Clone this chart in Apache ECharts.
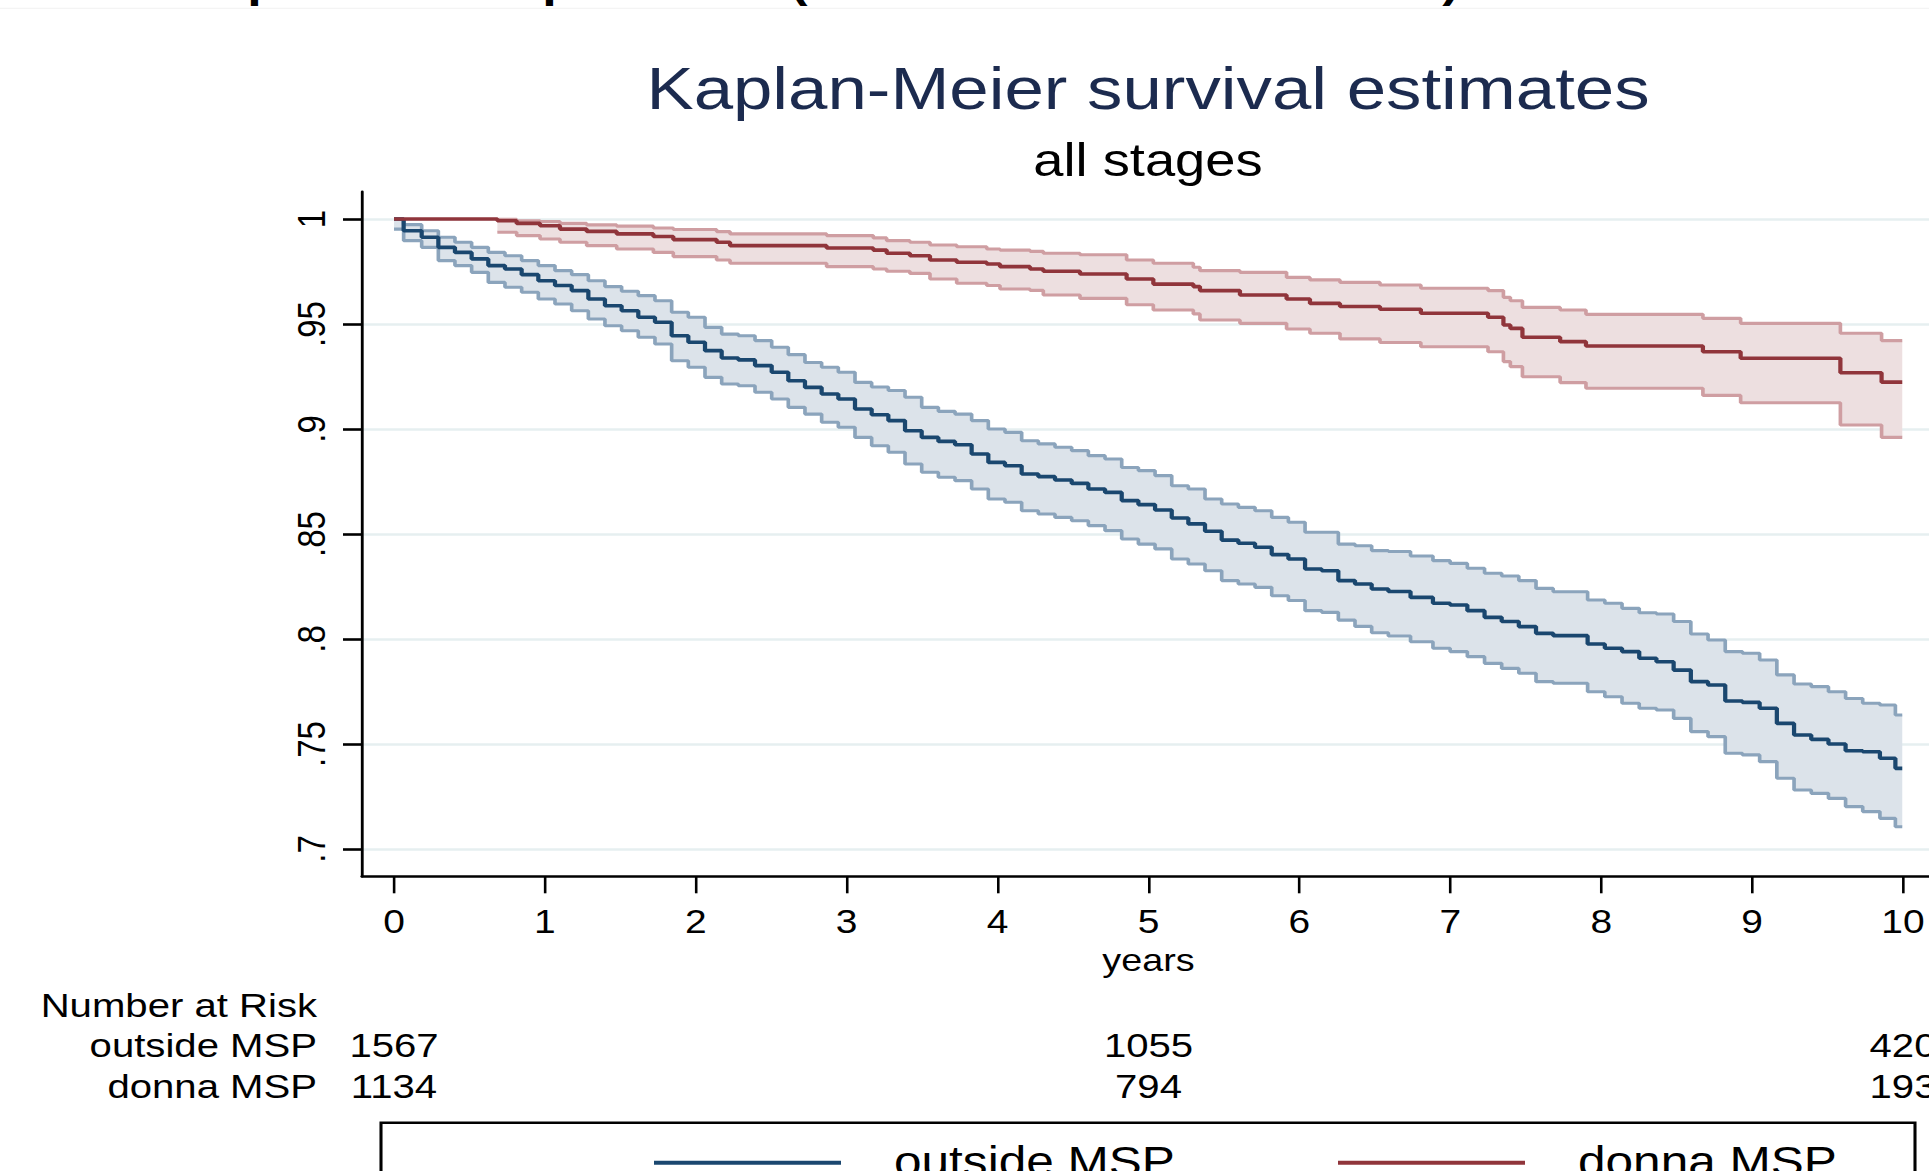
<!DOCTYPE html>
<html>
<head>
<meta charset="utf-8">
<title>Kaplan-Meier survival estimates</title>
<script src="https://cdn.jsdelivr.net/npm/echarts@6.0.0/dist/echarts.min.js"></script>
<style>
    html, body { margin: 0; padding: 0; background: #fff; overflow: hidden; }
    #main { position: absolute; left: 0; top: 0; height: 1171px; transform-origin: 0 0; }
</style>
</head>
<body>
<div id="main"></div>
<script type="text/javascript">
    // outside MSP (blue): time in years, KM estimate and 95% CI
    var outsideTime = [
        0, 0.128, 0.239, 0.349, 0.459, 0.570, 0.680, 0.791, 0.901, 1.012,
        1.122, 1.233, 1.343, 1.453, 1.564, 1.674, 1.785, 1.895, 2.006, 2.116,
        2.227, 2.337, 2.448, 2.558, 2.668, 2.779, 2.889, 3.000, 3.110, 3.221,
        3.331, 3.442, 3.552, 3.663, 3.773, 3.883, 3.994, 4.104, 4.215, 4.325,
        4.436, 4.546, 4.657, 4.767, 4.878, 4.988, 5.099, 5.209, 5.319, 5.430,
        5.540, 5.651, 5.761, 5.872, 5.982, 6.093, 6.203, 6.313, 6.424, 6.534,
        6.645, 6.828, 6.942, 7.056, 7.170, 7.284, 7.397, 7.511, 7.625, 7.739,
        7.853, 7.967, 8.081, 8.195, 8.309, 8.423, 8.537, 8.651, 8.765, 8.879,
        8.993, 9.107, 9.221, 9.335, 9.449, 9.563, 9.676, 9.790, 9.904, 9.995
    ];
    var outsideEst = [
        1.0, 0.9944, 0.9913, 0.9865, 0.9841, 0.9810, 0.9778, 0.9762, 0.9735, 0.9706,
        0.9683, 0.9659, 0.9619, 0.9587, 0.9563, 0.9532, 0.9508, 0.9444, 0.9413, 0.9373,
        0.9338, 0.9329, 0.9302, 0.9270, 0.9230, 0.9198, 0.9167, 0.9143, 0.9095, 0.9068,
        0.9040, 0.8992, 0.8960, 0.8941, 0.8925, 0.8881, 0.8841, 0.8825, 0.8786, 0.8773,
        0.8757, 0.8741, 0.8714, 0.8698, 0.8659, 0.8640, 0.8614, 0.8576, 0.8548, 0.8513,
        0.8471, 0.8456, 0.8437, 0.8402, 0.8381, 0.8333, 0.8325, 0.8278, 0.8262, 0.8238,
        0.8226, 0.8198, 0.8170, 0.8162, 0.8135, 0.8103, 0.8083, 0.8059, 0.8027, 0.8016,
        0.8016, 0.7976, 0.7956, 0.7940, 0.7908, 0.7892, 0.7852, 0.7797, 0.7781, 0.7705,
        0.7698, 0.7670, 0.7598, 0.7543, 0.7522, 0.7500, 0.7468, 0.7463, 0.7432, 0.7384
    ];
    var outsideUpper = [
        1.0, 0.9973, 0.9944, 0.9913, 0.9889, 0.9865, 0.9841, 0.9825, 0.9802, 0.9778,
        0.9754, 0.9735, 0.9706, 0.9678, 0.9656, 0.9635, 0.9611, 0.9556, 0.9532, 0.9484,
        0.9452, 0.9444, 0.9421, 0.9389, 0.9354, 0.9317, 0.9294, 0.9270, 0.9222, 0.9200,
        0.9183, 0.9151, 0.9103, 0.9084, 0.9071, 0.9040, 0.9000, 0.8984, 0.8944, 0.8929,
        0.8913, 0.8897, 0.8873, 0.8857, 0.8817, 0.8802, 0.8778, 0.8730, 0.8714, 0.8667,
        0.8643, 0.8627, 0.8611, 0.8579, 0.8556, 0.8508, 0.8508, 0.8452, 0.8444, 0.8421,
        0.8417, 0.8395, 0.8373, 0.8360, 0.8337, 0.8313, 0.8300, 0.8278, 0.8241, 0.8225,
        0.8225, 0.8186, 0.8170, 0.8146, 0.8125, 0.8119, 0.8083, 0.8024, 0.7995, 0.7940,
        0.7932, 0.7900, 0.7829, 0.7786, 0.7773, 0.7749, 0.7717, 0.7694, 0.7686, 0.7638
    ];
    var outsideLower = [
        0.9952, 0.9897, 0.9865, 0.9802, 0.9778, 0.9746, 0.9698, 0.9675, 0.9651, 0.9619,
        0.9595, 0.9563, 0.9524, 0.9492, 0.9468, 0.9437, 0.9405, 0.9325, 0.9294, 0.9246,
        0.9214, 0.9206, 0.9175, 0.9143, 0.9103, 0.9071, 0.9032, 0.9008, 0.8960, 0.8920,
        0.8889, 0.8833, 0.8794, 0.8770, 0.8754, 0.8714, 0.8667, 0.8651, 0.8611, 0.8595,
        0.8579, 0.8563, 0.8540, 0.8516, 0.8476, 0.8452, 0.8429, 0.8381, 0.8357, 0.8325,
        0.8278, 0.8262, 0.8246, 0.8206, 0.8183, 0.8135, 0.8127, 0.8090, 0.8060, 0.8030,
        0.8014, 0.7987, 0.7956, 0.7940, 0.7916, 0.7884, 0.7860, 0.7837, 0.7797, 0.7789,
        0.7789, 0.7749, 0.7725, 0.7694, 0.7670, 0.7662, 0.7622, 0.7559, 0.7535, 0.7456,
        0.7448, 0.7416, 0.7337, 0.7281, 0.7265, 0.7241, 0.7202, 0.7178, 0.7146, 0.7106
    ];

    // donna MSP (red): step times, estimate and 95% CI (no CI before first event)
    var donnaTime = [
        0, 0.685, 0.813, 0.968, 1.100, 1.277, 1.476, 1.719, 1.851, 2.138,
        2.227, 2.867, 3.176, 3.265, 3.419, 3.552, 3.729, 3.928, 4.016, 4.215,
        4.303, 4.546, 4.855, 5.032, 5.297, 5.341, 5.606, 5.915, 6.070, 6.269,
        6.534, 6.805, 7.250, 7.352, 7.398, 7.478, 7.728, 7.899, 8.674, 8.924,
        9.585, 9.858, 9.995
    ];
    var donnaEst = [
        1.0, 0.9992, 0.9979, 0.9968, 0.9952, 0.9941, 0.9929, 0.9917, 0.9902, 0.9889,
        0.9873, 0.9862, 0.9852, 0.9837, 0.9825, 0.9805, 0.9794, 0.9786, 0.9773, 0.9762,
        0.9751, 0.9738, 0.9714, 0.9690, 0.9678, 0.9659, 0.9638, 0.9619, 0.9598, 0.9583,
        0.9570, 0.9551, 0.9532, 0.9495, 0.9479, 0.9437, 0.9416, 0.9395, 0.9368, 0.9337,
        0.9268, 0.9223, 0.9223
    ];
    var donnaUpper = [
        null, 0.9998, 0.9992, 0.9988, 0.9979, 0.9972, 0.9966, 0.9957, 0.9950, 0.9940,
        0.9929, 0.9921, 0.9910, 0.9897, 0.9889, 0.9876, 0.9868, 0.9857, 0.9852, 0.9846,
        0.9837, 0.9830, 0.9805, 0.9789, 0.9770, 0.9754, 0.9746, 0.9722, 0.9710, 0.9698,
        0.9686, 0.9670, 0.9659, 0.9627, 0.9611, 0.9579, 0.9567, 0.9546, 0.9527, 0.9503,
        0.9456, 0.9421, 0.9421
    ];
    var donnaLower = [
        null, 0.9937, 0.9921, 0.9905, 0.9889, 0.9873, 0.9857, 0.9841, 0.9821, 0.9805,
        0.9789, 0.9773, 0.9762, 0.9751, 0.9741, 0.9714, 0.9694, 0.9683, 0.9667, 0.9660,
        0.9638, 0.9622, 0.9592, 0.9567, 0.9548, 0.9519, 0.9503, 0.9476, 0.9456, 0.9429,
        0.9412, 0.9392, 0.9368, 0.9321, 0.9297, 0.9249, 0.9221, 0.9194, 0.9160, 0.9125,
        0.9019, 0.8960, 0.8960
    ];

    // number at risk table
    var riskTimes = [0, 5, 10];
    var outsideRisk = [1567, 1055, 420];
    var donnaRisk = [1134, 794, 193];

    // axis ticks
    var xTicks = [0, 1, 2, 3, 4, 5, 6, 7, 8, 9, 10];
    var yTicks = [0.7, 0.75, 0.8, 0.85, 0.9, 0.95, 1];
    var yTickLabels = ['.7', '.75', '.8', '.85', '.9', '.95', '1'];

    // the reference picture is stretched sideways, so the chart is drawn narrower and scaled
    var S = 1.18;
    function X(v) { return v / S; }

    var dom = document.getElementById('main');
    dom.style.width = '1700px';   // wider than the window so the plot runs off the right edge
    dom.style.transform = 'scaleX(' + S + ')';

    var FONT = '"Liberation Sans", Arial, Helvetica, sans-serif';
    var BLUE = '#1a476f', BLUE_CI = '#8ba4bc', BLUE_FILL = '#dce3ea';
    var RED = '#90353b', RED_CI = '#cf9ea2', RED_FILL = '#eddfe0';

    function pairs(times, vals) {
        var out = [];
        for (var i = 0; i < times.length; i++) {
            if (vals[i] != null) out.push([times[i], vals[i]]);
        }
        return out;
    }

    // x range each value holds for, 'end' = until next time, 'middle' = to the midpoints
    function spans(times, first, step) {
        var n = times.length, out = [];
        for (var i = first; i < n; i++) {
            var a, b;
            if (step === 'middle') {
                a = i === first ? times[i] : (times[i - 1] + times[i]) / 2;
                b = i === n - 1 ? times[i] : (times[i] + times[i + 1]) / 2;
            } else {
                a = times[i];
                b = i === n - 1 ? times[i] : times[i + 1];
            }
            out.push([i, a, b]);
        }
        return out;
    }

    // step shaped CI band between upper and lower
    function band(times, upper, lower, fill, step) {
        return function (params, api) {
            var first = upper[0] == null ? 1 : 0;
            var sp = spans(times, first, step);
            var pts = [], k;
            for (k = 0; k < sp.length; k++) {
                pts.push(api.coord([sp[k][1], upper[sp[k][0]]]));
                pts.push(api.coord([sp[k][2], upper[sp[k][0]]]));
            }
            for (k = sp.length - 1; k >= 0; k--) {
                pts.push(api.coord([sp[k][2], lower[sp[k][0]]]));
                pts.push(api.coord([sp[k][1], lower[sp[k][0]]]));
            }
            return { type: 'polygon', shape: { points: pts }, style: { fill: fill } };
        };
    }

    function stepLine(name, times, vals, step, color, width, z) {
        return {
            name: name,
            type: 'line',
            step: step,
            data: pairs(times, vals),
            showSymbol: false,
            symbol: 'none',
            lineStyle: { color: color, width: width },
            itemStyle: { color: color },
            z: z,
            silent: true,
            animation: false
        };
    }

    var xMin = -0.212, xMax = 10.212;
    var yMin = 0.687, yMax = 1.013;

    var myChart = echarts.init(dom, null, { renderer: 'svg' });

    var option = {
        backgroundColor: '#fff',
        animation: false,
        grid: {
            left: X(362),
            top: 191.7,
            width: X(1573),
            height: 684.6
        },
        xAxis: {
            type: 'value',
            min: xMin,
            max: xMax,
            name: 'years',
            nameLocation: 'middle',
            nameGap: 63,
            nameTextStyle: { fontFamily: FONT, fontSize: 32, color: '#000' },
            axisLine: { onZero: false, lineStyle: { color: '#000', width: 2.7 } },
            axisTick: { customValues: xTicks, length: 17, lineStyle: { color: '#000', width: 2.2 } },
            axisLabel: { customValues: xTicks, margin: 29, fontFamily: FONT, fontSize: 33, color: '#000' },
            splitLine: { show: false }
        },
        yAxis: {
            type: 'value',
            min: yMin,
            max: yMax,
            axisLine: { show: true, onZero: false, lineStyle: { color: '#000', width: 2.4 } },
            axisTick: { show: true, customValues: yTicks, length: X(19), lineStyle: { color: '#000', width: 2.6 } },
            axisLabel: {
                customValues: yTicks,
                rotate: 90,
                margin: 26,
                fontFamily: FONT,
                fontSize: 33,
                color: '#000',
                formatter: function (v) {
                    for (var i = 0; i < yTicks.length; i++) {
                        if (Math.abs(yTicks[i] - v) < 1e-6) return yTickLabels[i];
                    }
                    return '';
                }
            },
            splitLine: { show: true, lineStyle: { color: '#e6eff0', width: 2.5 } }
        },
        series: [
            {
                type: 'custom',
                renderItem: band(outsideTime, outsideUpper, outsideLower, BLUE_FILL, 'middle'),
                data: [[0, 1]],
                z: 1,
                silent: true
            },
            {
                type: 'custom',
                renderItem: band(donnaTime, donnaUpper, donnaLower, RED_FILL, 'end'),
                data: [[0, 1]],
                z: 1,
                silent: true
            },
            stepLine('outside upper', outsideTime, outsideUpper, 'middle', BLUE_CI, 3.1, 2),
            stepLine('outside lower', outsideTime, outsideLower, 'middle', BLUE_CI, 3.1, 2),
            stepLine('donna upper', donnaTime, donnaUpper, 'end', RED_CI, 3.1, 2),
            stepLine('donna lower', donnaTime, donnaLower, 'end', RED_CI, 3.1, 2),
            stepLine('outside MSP', outsideTime, outsideEst, 'middle', BLUE, 3.6, 3),
            stepLine('donna MSP', donnaTime, donnaEst, 'end', RED, 3.6, 3)
        ]
    };

    myChart.setOption(option);

    // texts, number at risk table and legend box
    function txt(s, x, y, size, align, color, weight) {
        return {
            type: 'text',
            x: x,
            y: y,
            silent: true,
            style: {
                text: s,
                fontFamily: FONT,
                fontSize: size,
                fontWeight: weight || 'normal',
                fill: color || '#000',
                align: align || 'left',
                verticalAlign: 'middle'
            }
        };
    }

    var g = [];
    // cut off heading above the chart
    g.push({ type: 'line', shape: { x1: 0, y1: 8.3, x2: X(1929), y2: 8.3 }, style: { stroke: '#f1f1f1', lineWidth: 1 } });
    [['p', 263], ['p', 558], ['(', 799], [')', 1451]].forEach(function (c) {
        g.push({
            type: 'text', x: X(c[1]), y: 3, silent: true,
            style: { text: c[0], fontFamily: FONT, fontSize: 44, fontWeight: 'bold', fill: '#000', align: 'center', verticalAlign: 'bottom' }
        });
    });

    g.push(txt('Kaplan-Meier survival estimates', X(1148), 88, 60, 'center', '#1c2b4f'));
    g.push(txt('all stages', X(1148), 160, 46, 'center', '#000'));

    g.push(txt('Number at Risk', X(317), 1004.7, 34, 'right'));
    g.push(txt('outside MSP', X(317), 1045.3, 34, 'right'));
    g.push(txt('donna MSP', X(317), 1086.2, 34, 'right'));
    for (var i = 0; i < riskTimes.length; i++) {
        var px = myChart.convertToPixel({ xAxisIndex: 0 }, riskTimes[i]);
        g.push(txt(String(outsideRisk[i]), px, 1045.3, 34, 'center'));
        g.push(txt(String(donnaRisk[i]), px, 1086.2, 34, 'center'));
    }

    // legend
    g.push({ type: 'rect', shape: { x: X(381), y: 1122.7, width: X(1915) - X(381), height: 120 }, style: { fill: '#fff', stroke: '#000', lineWidth: 2.6 } });
    g.push({ type: 'line', shape: { x1: X(654), y1: 1162.7, x2: X(841), y2: 1162.7 }, style: { stroke: BLUE, lineWidth: 4 } });
    g.push(txt('outside MSP', X(894), 1161, 42, 'left'));
    g.push({ type: 'line', shape: { x1: X(1338), y1: 1162.7, x2: X(1525), y2: 1162.7 }, style: { stroke: RED, lineWidth: 4 } });
    g.push(txt('donna MSP', X(1578), 1161, 42, 'left'));

    myChart.setOption({ graphic: g });
</script>
</body>
</html>
